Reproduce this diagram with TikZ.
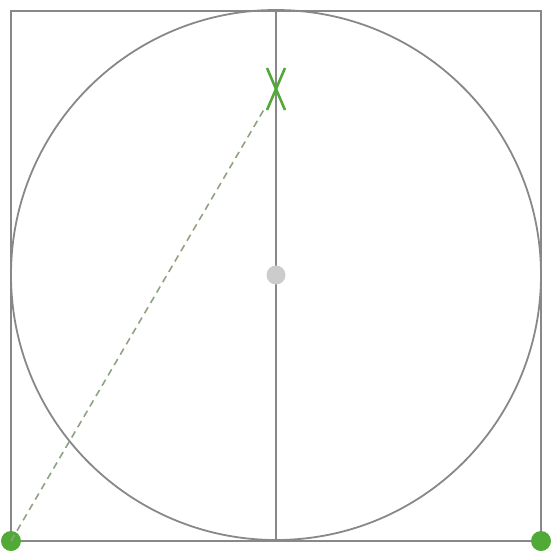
\documentclass[tikz,border=0pt]{standalone}
\usepackage{tikz}
\usetikzlibrary{calc}
\definecolor{framegray}{HTML}{888888}
\definecolor{markgreen}{HTML}{50AA35}
\definecolor{chordgreen}{HTML}{8FA383}
\definecolor{centergray}{HTML}{CCCCCC}
\tikzset{
  frameline/.style={line width=1.8pt,framegray},
  chordline/.style={line width=1.6pt,chordgreen,dash pattern=on 7pt off 5pt},
  crossline/.style={line width=2.6pt,markgreen},
  greendot/.style={circle,fill=markgreen,inner sep=0pt,minimum size=20pt},
  graydot/.style={circle,fill=centergray,inner sep=0pt,minimum size=19pt}
}
\begin{document}
\begin{tikzpicture}[x=1pt,y=-1pt]
  \useasboundingbox (0,0) rectangle (555,550);
  \coordinate (tl) at (11,11);
  \coordinate (br) at (541,541);
  \coordinate (top) at (276,11);
  \coordinate (bottom) at (276,541);
  \coordinate (mark) at (276,89);
  \draw[frameline] (tl) rectangle (br);
  \draw[frameline] (276,275) circle (265);
  \draw[frameline] (top)--(bottom);
  \node[graydot] (center) at (276,275) {};
  \node[greendot] (left) at (11,541) {};
  \node[greendot] (right) at (541,541) {};
  \draw[chordline] (left.center)--($(left.center)!0.955!(mark)$);
  \draw[crossline] ($(mark)+(-9,-21)$)--($(mark)+(9,21)$);
  \draw[crossline] ($(mark)+(9,-21)$)--($(mark)+(-9,21)$);
\end{tikzpicture}
\end{document}
